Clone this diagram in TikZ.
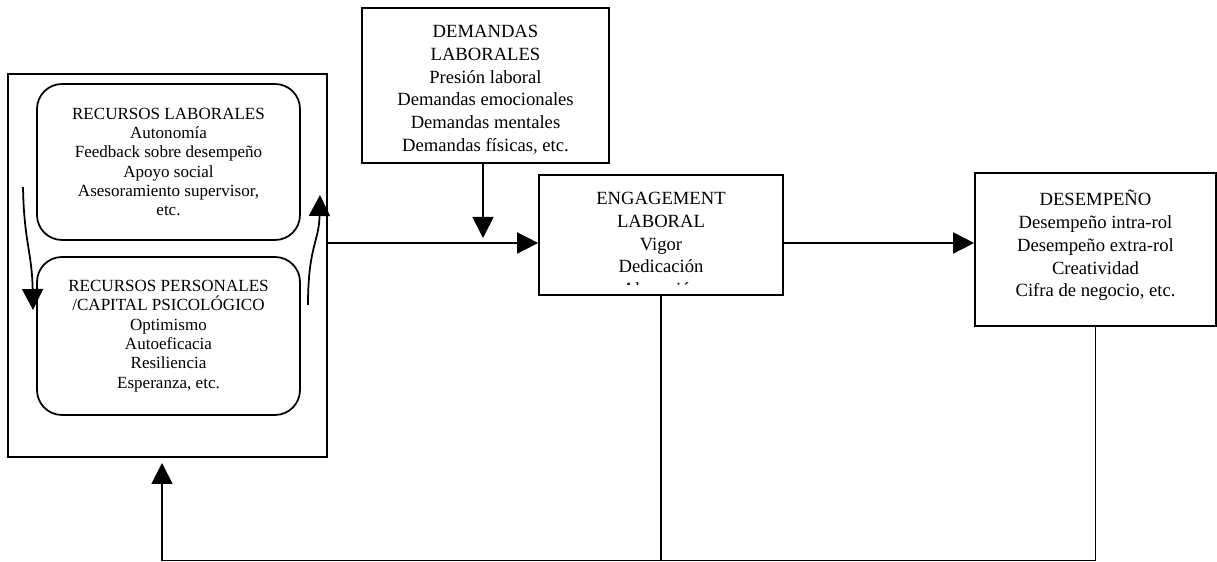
\documentclass[tikz,border=0pt]{standalone}
\usepackage{fontspec}
\setmainfont{Liberation Serif}
\usetikzlibrary{arrows.meta, positioning}

\begin{document}
\begin{tikzpicture}[
    >={Triangle[length=0.42cm, width=0.42cm]}, line width=1pt,
    box/.style={draw, rectangle, inner sep=0pt},
    roundbox/.style={draw, rectangle, rounded corners=0.5cm, inner sep=0pt,
        align=center, font=\fontsize{9.7}{11}\selectfont},
    boxtext/.style={align=center, inner sep=0pt, font=\fontsize{10.6}{13}\selectfont}]

    \useasboundingbox (0,0) rectangle (24.34,11.24);

    % Define boxes
    \node[box, minimum width=6.38cm, minimum height=7.66cm] (recursos) at (3.35,5.93) {};
    \node[roundbox, minimum width=5.26cm, minimum height=3.12cm] (laborales) at (3.37,8.0)
        {RECURSOS LABORALES\\Autonomía\\Feedback sobre desempeño\\Apoyo social\\Asesoramiento supervisor,\\etc.};
    \node[roundbox, minimum width=5.26cm, minimum height=3.16cm] (personales) at (3.37,4.52)
        {RECURSOS PERSONALES\\/CAPITAL PSICOLÓGICO\\Optimismo\\Autoeficacia\\Resiliencia\\Esperanza, etc.};

    \node[box, minimum width=4.94cm, minimum height=3.10cm] (demandas) at (9.71,9.53) {};
    \node[boxtext, below=0.34cm of demandas.north] (demandastxt)
        {DEMANDAS\\LABORALES\\Presión laboral\\Demandas emocionales\\Demandas mentales\\Demandas físicas, etc.};

    \node[box, minimum width=4.88cm, minimum height=2.40cm] (engagement) at (13.22,6.54) {};
    \begin{scope}
        \clip (engagement.north west) rectangle ([yshift=0.22cm]engagement.south east);
        \node[boxtext, below=0.34cm of engagement.north] (engagementtxt)
            {ENGAGEMENT\\LABORAL\\Vigor\\Dedicación\\Absorción};
    \end{scope}

    \node[box, minimum width=4.82cm, minimum height=3.06cm] (desempeno) at (21.91,6.25) {};
    \node[boxtext, below=0.34cm of desempeno.north] (desempenotxt)
        {DESEMPEÑO\\Desempeño intra-rol\\Desempeño extra-rol\\Creatividad\\Cifra de negocio, etc.};

    % Draw connectors
    \coordinate (mid) at (0,6.38);
    \coordinate (dtip) at (9.66,6.48);
    \coordinate (floor) at (0,0.03);
    \coordinate (ftip) at (3.24,1.98);
    \draw[->] (recursos.east |- mid) -- (engagement.west |- mid);
    \draw[->] (engagement.east |- mid) -- (desempeno.west |- mid);
    \draw[->] (demandas.south -| dtip) -- (dtip);
    \draw (engagement.south) -- (engagement.south |- floor);
    \draw[->] (desempeno.south) -- (desempeno.south |- floor) -- (ftip |- floor) -- (ftip);

    % Curved arrows between the resources
    \coordinate (ltop) at (0.46,7.5);
    \coordinate (lend) at (0.66,5.04);
    \coordinate (rbot) at (6.16,5.14);
    \coordinate (rend) at (6.40,7.34);
    \draw[->] (ltop) .. controls (0.48,6.4) and (0.64,6.2) .. (lend);
    \draw[->] (rbot) .. controls (6.16,6.3) and (6.38,6.4) .. (rend);
\end{tikzpicture}
\end{document}
